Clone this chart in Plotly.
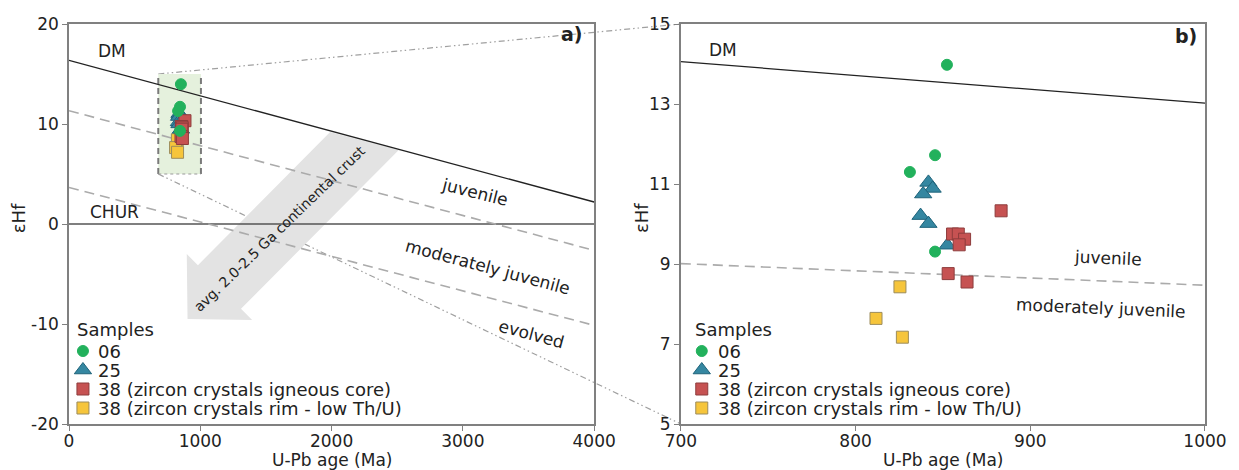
import plotly.graph_objects as go

# ---- sample data: U-Pb age (Ma) vs epsilon-Hf ----
s06_age = [852.3, 845.5, 831.1, 845.5]
s06_ehf = [13.98, 11.72, 11.30, 9.31]

s25_age = [841.7, 844.1, 838.7, 837.2, 841.7, 852.6]
s25_ehf = [11.04, 10.89, 10.75, 10.21, 10.01, 9.47]

s38_core_age = [883.3, 855.5, 858.8, 862.4, 859.3, 853.0, 863.8]
s38_core_ehf = [10.33, 9.75, 9.75, 9.62, 9.48, 8.76, 8.55]

s38_rim_age = [825.4, 811.7, 826.8]
s38_rim_ehf = [8.43, 7.64, 7.17]

# ---- reference evolution lines (end points) ----
line_age_a = [0, 4000]
dm_ehf_a = [16.36, 2.2]
juv_ehf_a = [11.33, -2.64]
modj_ehf_a = [3.66, -10.14]
chur_ehf_a = [0, 0]

line_age_b = [700, 1000]
dm_ehf_b = [14.06, 13.02]
juv_ehf_b = [9.01, 8.47]

# zoom window shown in panel b
box_age = [680, 1005]
box_ehf = [5, 15]

# tick labels
xticks_a = [0, 1000, 2000, 3000, 4000]
yticks_a = [-20, -10, 0, 10, 20]
xticks_b = [700, 800, 900, 1000]
yticks_b = [5, 7, 9, 11, 13, 15]

legend_labels = ["06", "25", "38 (zircon crystals igneous core)",
                 "38 (zircon crystals rim - low Th/U)"]

FONT = "DejaVu Sans"
TXT = "#222222"
AXC = "#808080"

# ---- figure geometry ----
W, H = 1239, 470
ML, MR, MT, MB = 69, 30, 24, 46
PW, PH = W - ML - MR, H - MT - MB
XA, YA = [0, 4000], [-20, 20]
XB, YB = [700, 1000], [5, 15]
DOM_A = [0, 527 / PW]
DOM_B = [614 / PW, 1]


def px(x):
    return (x - ML) / PW


def py(y):
    return (H - MB - y) / PH


def a_paper(x, y):
    fx = DOM_A[0] + (x - XA[0]) / (XA[1] - XA[0]) * (DOM_A[1] - DOM_A[0])
    return fx, (y - YA[0]) / (YA[1] - YA[0])


def b_paper(x, y):
    fx = DOM_B[0] + (x - XB[0]) / (XB[1] - XB[0]) * (DOM_B[1] - DOM_B[0])
    return fx, (y - YB[0]) / (YB[1] - YB[0])


series = [
    (s38_rim_age, s38_rim_ehf, "square", 12, "#f6c53b", "#9c8c5c", 3),
    (s25_age, s25_ehf, "triangle-up", 15, "#3587a1", "#1f637a", 1),
    (s38_core_age, s38_core_ehf, "square", 12, "#c65252", "#8e3c3c", 2),
    (s06_age, s06_ehf, "circle", 11, "#22b15c", "#22b15c", 0),
]

fig = go.Figure()


def ref_line(x, y, xa, ya, color, width, dash):
    fig.add_trace(go.Scatter(x=x, y=y, xaxis=xa, yaxis=ya, mode="lines",
                             line=dict(color=color, width=width, dash=dash),
                             hoverinfo="skip", showlegend=False))


ref_line(line_age_a, dm_ehf_a, "x", "y", "#222222", 1.3, "solid")
ref_line(line_age_a, chur_ehf_a, "x", "y", "#555555", 1.6, "solid")
ref_line(line_age_a, juv_ehf_a, "x", "y", "#ababab", 1.6, "10px,6px")
ref_line(line_age_a, modj_ehf_a, "x", "y", "#ababab", 1.6, "10px,6px")
ref_line(line_age_b, dm_ehf_b, "x2", "y2", "#222222", 1.3, "solid")
ref_line(line_age_b, juv_ehf_b, "x2", "y2", "#ababab", 1.6, "10px,6px")

# sample markers in both panels
for age, ehf, sym, size, col, edge, _ in series:
    for xa, ya in (("x", "y"), ("x2", "y2")):
        fig.add_trace(go.Scatter(
            x=age, y=ehf, xaxis=xa, yaxis=ya, mode="markers",
            marker=dict(symbol=sym, size=size, color=col,
                        line=dict(color=edge, width=1)),
            hoverinfo="skip", showlegend=False))

# custom legends (marker keys on a full-figure overlay axis)
LEG_TITLE_Y = 329
LEG_ROWS_Y = [351, 370, 389, 408]
legends = [(75, 83, 96), (695, 704, 718)]
annotations = []
for title_x, key_x, text_x in legends:
    annotations.append(dict(x=px(title_x), y=py(LEG_TITLE_Y), xref="paper", yref="paper",
                            text="Samples", showarrow=False, xanchor="left",
                            yanchor="middle", font=dict(family=FONT, size=18, color=TXT)))
    for (age, ehf, sym, size, col, edge, idx) in series:
        ry = LEG_ROWS_Y[idx]
        fig.add_trace(go.Scatter(
            x=[px(key_x)], y=[py(ry)], xaxis="x3", yaxis="y3", mode="markers",
            marker=dict(symbol=sym, size=size, color=col, line=dict(color=edge, width=1)),
            hoverinfo="skip", showlegend=False))
        annotations.append(dict(x=px(text_x), y=py(ry), xref="paper", yref="paper",
                                text=legend_labels[idx], showarrow=False, xanchor="left",
                                yanchor="middle",
                                font=dict(family=FONT, size=18, color=TXT)))


def label(x, y, text, xr, yr, size=17, angle=0, bold=False):
    annotations.append(dict(x=x, y=y, xref=xr, yref=yr,
                            text=f"<b>{text}</b>" if bold else text,
                            showarrow=False, textangle=angle, xanchor="center",
                            yanchor="middle", font=dict(family=FONT, size=size, color=TXT)))


label(326, 17.3, "DM", "x", "y")
label(345, 1.25, "CHUR", "x", "y")
label(3089, 3.2, "juvenile", "x", "y", angle=14)
label(3188, -4.3, "moderately juvenile", "x", "y", angle=15)
label(3522, -11.0, "evolved", "x", "y", angle=15)
label(1601, -0.5, "avg. 2.0-2.5 Ga continental crust", "x", "y", size=14, angle=-44)
label(724, 14.35, "DM", "x2", "y2")
label(944.7, 9.16, "juvenile", "x2", "y2", angle=2.5)
label(940.7, 7.9, "moderately juvenile", "x2", "y2", angle=2.5)
label(px(574), py(34), "a)", "paper", "paper", size=19, bold=True)
label(px(1190), py(36), "b)", "paper", "paper", size=19, bold=True)

# axis titles
for cx in (332.5, 946):
    label(px(cx), py(460), "U-Pb age (Ma)", "paper", "paper", size=17)
for cx in (18, 643):
    label(px(cx), py(218), "εHf", "paper", "paper", size=18, angle=-90)

# ---- shapes: zoom window, connectors and crust arrow ----
shapes = []
shapes.append(dict(type="rect", xref="x", yref="y", x0=box_age[0], x1=box_age[1],
                   y0=box_ehf[0], y1=box_ehf[1], fillcolor="#e5f1dd",
                   line=dict(width=0), layer="below"))
for bx in box_age:
    shapes.append(dict(type="line", xref="x", yref="y", x0=bx, x1=bx,
                       y0=box_ehf[0], y1=box_ehf[1], layer="below",
                       line=dict(color="#7a7a7a", width=2, dash="6px,4px")))
shapes.append(dict(type="line", xref="x", yref="y", x0=box_age[0], x1=box_age[1],
                   y0=box_ehf[0], y1=box_ehf[0], layer="below",
                   line=dict(color="#9a9a9a", width=1.2, dash="dot")))

conn_dash = "6px,3px,1.5px,3px,1.5px,3px"
for ya, yb in ((box_ehf[1], YB[1]), (box_ehf[0], YB[0])):
    x0, y0 = a_paper(box_age[0], ya)
    x1, y1 = b_paper(XB[0], yb)
    shapes.append(dict(type="line", xref="paper", yref="paper", x0=x0, y0=y0,
                       x1=x1, y1=y1, layer="below",
                       line=dict(color="#a0a0a0", width=1.2, dash=conn_dash)))

arrow_pts = [(1989, 9.2), (2512, 7.4), (1310, -8.48), (1395, -9.6),
             (903, -9.5), (897, -3.0), (982, -4.12)]
arrow_path = "M " + " L ".join(f"{x},{y}" for x, y in arrow_pts) + " Z"
shapes.append(dict(type="path", xref="x", yref="y", path=arrow_path,
                   fillcolor="#e3e3e3", line=dict(width=0), layer="below"))

axis_style = dict(showline=True, mirror=True, linecolor=AXC, linewidth=1.5,
                  ticks="outside", ticklen=5, tickwidth=1.2, tickcolor=AXC,
                  showgrid=False, zeroline=False, fixedrange=True,
                  tickfont=dict(family=FONT, size=17, color=TXT))


def tick_text(vals):
    return [str(v) for v in vals]


fig.update_layout(
    width=W, height=H,
    margin=dict(l=ML, r=MR, t=MT, b=MB),
    paper_bgcolor="white", plot_bgcolor="rgba(0,0,0,0)",
    showlegend=False,
    xaxis=dict(domain=DOM_A, range=XA, anchor="y", tickvals=xticks_a,
               ticktext=tick_text(xticks_a), ticklabelstandoff=-4, **axis_style),
    yaxis=dict(domain=[0, 1], range=YA, anchor="x", tickvals=yticks_a,
               ticktext=tick_text(yticks_a), **axis_style),
    xaxis2=dict(domain=DOM_B, range=XB, anchor="y2", tickvals=xticks_b,
                ticktext=tick_text(xticks_b), ticklabelstandoff=-4, **axis_style),
    yaxis2=dict(domain=[0, 1], range=YB, anchor="x2", tickvals=yticks_b,
                ticktext=tick_text(yticks_b), **axis_style),
    xaxis3=dict(domain=[0, 1], range=[0, 1], anchor="y3", visible=False, fixedrange=True),
    yaxis3=dict(domain=[0, 1], range=[0, 1], anchor="x3", visible=False, fixedrange=True),
    shapes=shapes,
    annotations=annotations,
)

fig.write_html("out.html")
